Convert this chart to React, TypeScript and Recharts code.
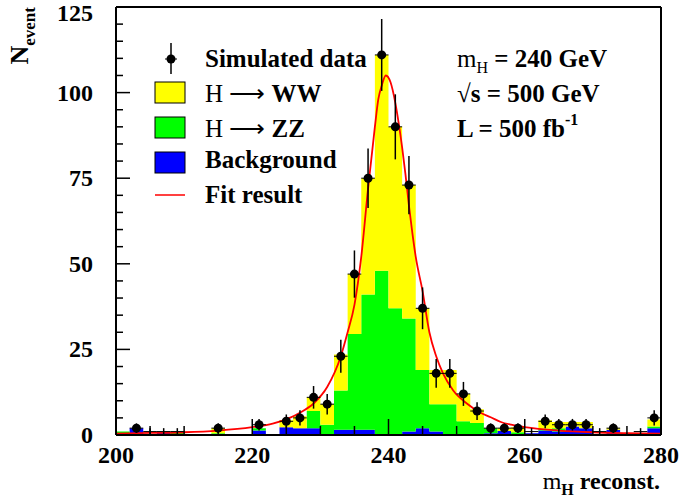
import {
	Area,
	ComposedChart,
	ErrorBar,
	Line,
	ReferenceLine,
	Scatter,
	XAxis,
	YAxis,
} from "recharts";

// lower bin edges, 2 GeV bins
const binLow = [
	200, 202, 204, 206, 208, 210, 212, 214, 216, 218, 220, 222, 224, 226, 228, 230, 232, 234, 236, 238,
	240, 242, 244, 246, 248, 250, 252, 254, 256, 258, 260, 262, 264, 266, 268, 270, 272, 274, 276, 278,
];
const background = [
	0, 2, 0, 0.7, 0, 0, 0, 0, 0, 0, 1.3, 0, 2.3, 2, 2, 0, 1.5, 1.5, 1.5, 0,
	0, 1, 2, 1, 0, 0, 0, 0.5, 1.2, 0.3, 0.5, 1.3, 1, 2.5, 2, 0, 1.5, 0, 0, 2,
];
const hzz = [
	1, 0, 0, 0, 0.7, 0, 0, 0.5, 0, 0, 0.7, 0, 0, 0, 5, 3, 11.5, 28, 39.5, 48,
	37, 33, 17, 8, 9, 4, 3.5, 1.5, 0, 0.5, 0, 0.5, 1, 0, 0, 0, 0, 0, 0, 0.5,
];
const hww = [
	0, 0, 0, 0, 0, 0, 0, 1.5, 0, 0, 0, 0, 2, 3.5, 4, 6, 10.5, 17.5, 34, 63,
	53, 39, 18, 10, 10, 8, 4, 0, 0.8, 1.5, 0, 2.5, 1.8, 1.3, 1.8, 0, 0.5, 0, 0, 2,
];
const dataCounts = [
	null, 2, 1, 1, 1, null, null, 2, null, null, 3, null, 4, 5, 11, 9, 23, 47, 75, 111,
	90, 73, 37, 18, 18, 12, 7, 2, 2, 2, 1, 4, 3, 3, 3, 1, 2, null, 1, 5,
];
const dataErrors = [
	null, 1.4, 1, 1, 1, null, null, 1.4, null, null, 1.7, null, 2, 2.2, 3.3, 3, 4.8, 6.9, 8.7, 10.5,
	9.5, 8.5, 6.1, 4.2, 4.2, 3.5, 2.6, 1.4, 1.4, 1.4, 1, 2, 1.7, 1.7, 1.7, 1, 1.4, null, 1, 2.2,
];
const fitMass = [
	200, 205, 210, 215, 220, 223, 225.5, 227, 229, 231, 233, 234, 235, 236, 237, 238, 238.5, 239, 239.6, 240.3,
	241, 241.5, 242, 242.5, 243, 243.5, 244, 245, 246, 247, 248, 249.5, 251.5, 253.5, 255, 256.5, 258, 260, 265, 270,
	275, 280,
];
const fitValue = [
	0.4, 0.6, 0.8, 1.3, 2.3, 3.3, 5, 6.5, 9.2, 14, 23, 30, 38, 52, 72, 90, 98, 102, 105, 103,
	97, 91, 84, 76, 67, 59, 52, 42, 30, 23, 18, 13, 9.2, 6.5, 5.2, 3.8, 3, 2.3, 1.3, 0.8,
	0.55, 0.4,
];
const xTicks = [200, 205, 210, 215, 220, 225, 230, 235, 240, 245, 250, 255, 260, 265, 270, 275, 280];
const yTicks = [0, 5, 10, 15, 20, 25, 30, 35, 40, 45, 50, 55, 60, 65, 70, 75, 80, 85, 90, 95, 100, 105, 110, 115, 120, 125];

const BIN_WIDTH = 2;
const FONT = "'Liberation Serif', 'Times New Roman', serif";
const YELLOW = "#ffff00";
const GREEN = "#00ff00";
const BLUE = "#0000ff";
const RED = "#ff0000";

const last = binLow.length - 1;
const histRows = [
	...binLow.map((m, i) => ({ m, bkg: background[i], zz: hzz[i], ww: hww[i] })),
	{ m: binLow[last] + BIN_WIDTH, bkg: background[last], zz: hzz[last], ww: hww[last] },
];
const points = binLow
	.map((m, i) => ({ m: m + BIN_WIDTH / 2, n: dataCounts[i], e: dataErrors[i], ex: BIN_WIDTH / 2 }))
	.filter((p) => p.n !== null);
const fitRows = fitMass.map((m, i) => ({ m, f: fitValue[i] }));

function XTick({ x, y, payload }: any) {
	const major = payload.value % 20 === 0;
	return (
		<g>
			<line x1={x} x2={x} y1={y} y2={y - (major ? 16 : 9)} stroke="#000" strokeWidth={1.5} />
			{major && (
				<text x={x} y={y + 28} textAnchor="middle" fontFamily={FONT} fontWeight="bold" fontSize={24} fill="#000">
					{payload.value}
				</text>
			)}
		</g>
	);
}

function YTick({ x, y, payload }: any) {
	const major = payload.value % 25 === 0;
	// top label sits against the page edge, keep it inside
	const ty = Math.max(y + 8, 21);
	return (
		<g>
			<line x1={x} x2={x + (major ? 14 : 7)} y1={y} y2={y} stroke="#000" strokeWidth={1.5} />
			{major && (
				<text x={x - 23} y={ty} textAnchor="end" fontFamily={FONT} fontWeight="bold" fontSize={24} fill="#000">
					{payload.value}
				</text>
			)}
		</g>
	);
}

function DataMarker(props: any) {
	const { cx, cy, payload } = props;
	if (payload == null || payload.n < 2) return <g />;
	return <circle cx={cx} cy={cy} r={4.5} fill="#000" />;
}

function Overlay() {
	const rows = [66.7, 101.7, 136.7, 168, 203];
	return (
		<svg width={679} height={497} style={{ position: "absolute", left: 0, top: 0, pointerEvents: "none" }}>
			<g fontFamily={FONT} fontSize={25} fill="#000">
				{/* y title */}
				<text transform="rotate(-90)" x={-7} y={28} textAnchor="end" fontWeight="bold">
					<tspan fontSize={26}>N</tspan>
					<tspan fontSize={17} dy={7}>event</tspan>
				</text>
				{/* x title */}
				<text x={660} y={489} textAnchor="end" fontWeight="bold" fontSize={24}>
					<tspan fontWeight="normal">m</tspan>
					<tspan fontSize={16} dy={6}>H</tspan>
					<tspan dy={-6}> reconst.</tspan>
				</text>

				{/* legend */}
				<line x1={171} x2={171} y1={43} y2={74} stroke="#000" strokeWidth={1.5} />
				<line x1={165} x2={177} y1={59} y2={59} stroke="#000" strokeWidth={1} />
				<circle cx={171} cy={59} r={4.5} fill="#000" />
				<rect x={155} y={82} width={30} height={21} fill={YELLOW} stroke="#000" strokeWidth={1} />
				<rect x={155} y={117} width={30} height={21} fill={GREEN} stroke="#000" strokeWidth={1} />
				<rect x={155} y={152} width={30} height={21} fill={BLUE} stroke="#000" strokeWidth={1} />
				<line x1={155} x2={185} y1={195} y2={195} stroke={RED} strokeWidth={1.5} />
				<text x={205} y={rows[0]} fontWeight="bold">Simulated data</text>
				<text x={205} y={rows[1]}>
					<tspan>H ⟶ </tspan>
					<tspan fontWeight="bold">WW</tspan>
				</text>
				<text x={205} y={rows[2]}>
					<tspan>H ⟶ </tspan>
					<tspan fontWeight="bold">ZZ</tspan>
				</text>
				<text x={205} y={rows[3]} fontWeight="bold">Background</text>
				<text x={205} y={rows[4]} fontWeight="bold">Fit result</text>

				{/* run conditions */}
				<text x={457} y={66.7}>
					<tspan>m</tspan>
					<tspan fontSize={16} dy={6}>H</tspan>
					<tspan dy={-6} fontWeight="bold"> = 240 GeV</tspan>
				</text>
				<text x={457} y={101.7} fontWeight="bold">√s = 500 GeV</text>
				<text x={457} y={136.7} fontWeight="bold">
					<tspan>L = 500 fb</tspan>
					<tspan fontSize={16} dy={-12}>-1</tspan>
				</text>
			</g>
		</svg>
	);
}

export default function App() {
	return (
		<div style={{ position: "absolute", left: 0, top: 0, width: 679, height: 497, background: "#fff" }}>
			<ComposedChart width={679} height={497} data={histRows} margin={{ top: 7, right: 18, left: 0, bottom: 0 }}>
				<XAxis
					dataKey="m"
					type="number"
					domain={[200, 280]}
					allowDataOverflow
					ticks={xTicks}
					interval={0}
					tickSize={0}
					tickMargin={0}
					tick={<XTick />}
					height={62}
					axisLine={{ stroke: "#000", strokeWidth: 2 }}
				/>
				<YAxis
					type="number"
					domain={[0, 125]}
					allowDataOverflow
					ticks={yTicks}
					interval={0}
					tickSize={0}
					tickMargin={0}
					tick={<YTick />}
					width={116}
					axisLine={{ stroke: "#000", strokeWidth: 2 }}
				/>
				<Area type="stepAfter" dataKey="bkg" stackId="h" fill={BLUE} fillOpacity={1} stroke="none" isAnimationActive={false} />
				<Area type="stepAfter" dataKey="zz" stackId="h" fill={GREEN} fillOpacity={1} stroke="none" isAnimationActive={false} />
				<Area type="stepAfter" dataKey="ww" stackId="h" fill={YELLOW} fillOpacity={1} stroke="none" isAnimationActive={false} />
				<Line
					data={fitRows}
					dataKey="f"
					type="monotone"
					stroke={RED}
					strokeWidth={1.8}
					dot={false}
					isAnimationActive={false}
				/>
				<Scatter data={points} dataKey="n" shape={DataMarker} isAnimationActive={false}>
					<ErrorBar dataKey="e" direction="y" width={0} stroke="#000" strokeWidth={1.5} />
					<ErrorBar dataKey="ex" direction="x" width={0} stroke="#000" strokeWidth={1} />
				</Scatter>
				<ReferenceLine y={125} stroke="#000" strokeWidth={2} />
				<ReferenceLine x={280} stroke="#000" strokeWidth={2} />
			</ComposedChart>
			<Overlay />
		</div>
	);
}
